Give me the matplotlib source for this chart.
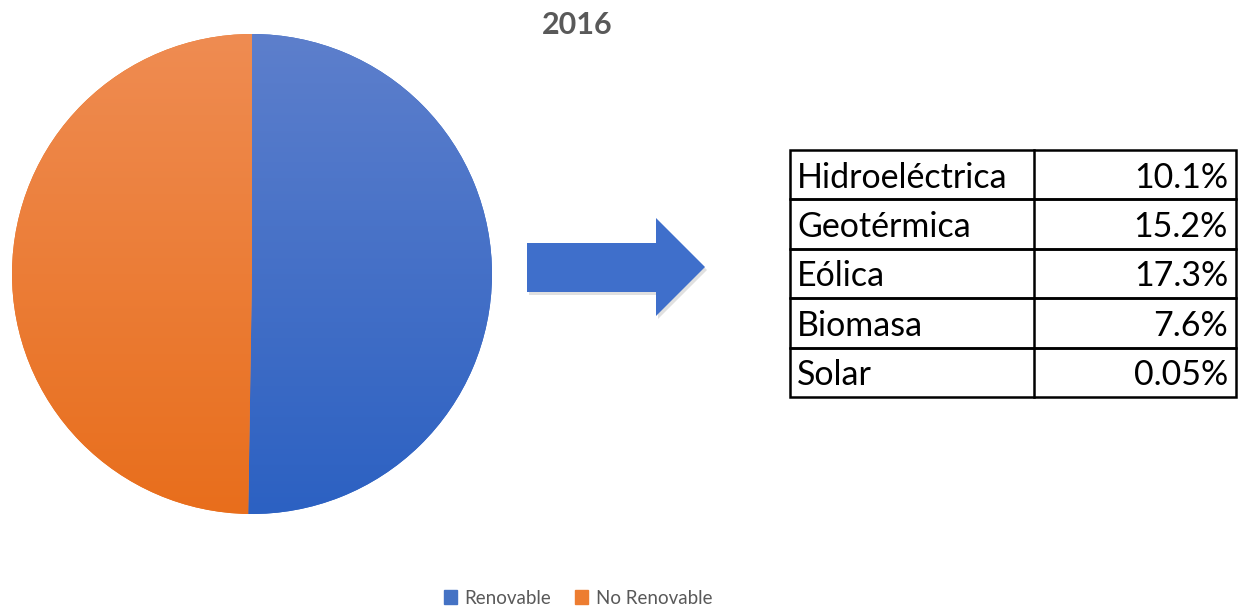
import numpy as np
import matplotlib.pyplot as plt
from matplotlib.patches import Rectangle, Polygon
from matplotlib.colors import LinearSegmentedColormap

# Data
year = "2016"
pie_labels = ["Renovable", "No Renovable"]
pie_values = [50.25, 49.75]
sources = ["Hidroeléctrica", "Geotérmica", "Eólica", "Biomasa", "Solar"]
shares = ["10.1%", "15.2%", "17.3%", "7.6%", "0.05%"]

W, H = 1242, 609
fig = plt.figure(figsize=(W / 100, H / 100), dpi=100)
plt.rcParams["font.family"] = ["Lato", "DejaVu Sans"]

# Pie with vertical gradient fill
ax = fig.add_axes([12 / W, (H - 514) / H, 480 / W, 480 / H])
tops = ["#5d7fcc", "#ef8c52"]
bottoms = ["#2c61c2", "#e86e1c"]
wedges, _ = ax.pie(pie_values, startangle=90, counterclock=False,
                   colors=bottoms, wedgeprops=dict(linewidth=0))
grad = np.linspace(0, 1, 256).reshape(-1, 1)
for w, top, bot in zip(wedges, tops, bottoms):
    cmap = LinearSegmentedColormap.from_list("g", [bot, top])
    im = ax.imshow(grad, extent=[-1, 1, -1, 1], origin="lower",
                   cmap=cmap, aspect="auto", zorder=2)
    im.set_clip_path(w)
ax.set_xlim(-1, 1)
ax.set_ylim(-1, 1)
ax.axis("off")

# Overlay in pixel coordinates
ov = fig.add_axes([0, 0, 1, 1], zorder=-1)
ov.set_xlim(0, W)
ov.set_ylim(H, 0)
ov.axis("off")

fig.text(577 / W, 1 - 25 / H, year, ha="center", va="center",
         fontsize=22, fontweight="bold", color="#595959")

# Arrow
arrow = [(527, 243), (656, 243), (656, 218), (705, 267), (656, 316),
         (656, 292), (527, 292)]
shadow = [(x + 2, y + 3) for x, y in arrow]
ov.add_patch(Polygon(shadow, closed=True, facecolor="#000000", alpha=0.12,
                     edgecolor="none"))
ov.add_patch(Polygon(arrow, closed=True, facecolor="#3f6fcb",
                     edgecolor="none"))

# Table
x0, x1, xm = 790, 1236, 1034
y0, y1 = 150, 397
rh = (y1 - y0) / len(sources)
for i, (s, v) in enumerate(zip(sources, shares)):
    yt = y0 + i * rh
    ov.add_patch(Rectangle((x0, yt), x1 - x0, rh, fill=False,
                           edgecolor="black", linewidth=1.8))
    ov.plot([xm, xm], [yt, yt + rh], color="black", linewidth=1.8)
    ov.text(797, yt + rh / 2 + 3, s, ha="left", va="center",
            fontsize=24.5, color="black")
    ov.text(1228, yt + rh / 2 + 3, v, ha="right", va="center",
            fontsize=24.5, color="black")

# Legend
handles = [Rectangle((0, 0), 1, 1, color=c) for c in ["#4472c4", "#ed7d31"]]
fig.legend(handles, pie_labels, loc="center", ncol=2,
           bbox_to_anchor=(578 / W, 1 - 598 / H), frameon=False,
           fontsize=13.5, labelcolor="#595959", handlelength=0.7,
           handleheight=0.7, handletextpad=0.4, columnspacing=1.3)

fig.savefig("out.png", dpi=100)
